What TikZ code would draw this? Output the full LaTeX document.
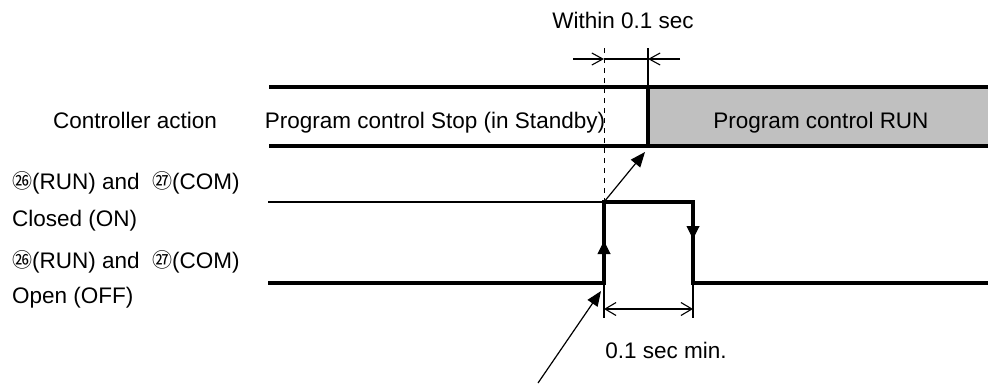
\documentclass[tikz,border=0pt]{standalone}
\usepackage{fontspec}
\setmainfont{Liberation Sans}
\newfontfamily\cjk{Noto Sans CJK JP}
\usepackage{tikz}
\usetikzlibrary{arrows.meta}
\definecolor{runfill}{RGB}{192,192,192}
\newcommand{\circnum}[1]{\raisebox{0.5pt}{\cjk\fontsize{20}{20}\selectfont #1}}

\begin{document}
\begin{tikzpicture}[x=1pt, y=-1pt,
        font=\fontsize{22.5}{27}\selectfont,
        band/.style={line width=4.5pt},
        sig/.style={line width=4.3pt},
        thinline/.style={line width=1.2pt},
        lbl/.style={anchor=base west, inner sep=0pt},
        barb/.style={line width=1.1pt, -{Straight Barb[length=11pt, width=12pt]}},
        dimarr/.style={line width=1.1pt, {Straight Barb[length=11pt, width=13pt]}-{Straight Barb[length=11pt, width=13pt]}},
        pointer/.style={line width=1.2pt, -{Triangle[length=15pt, width=12pt]}},
        edgearr/.style={line width=1pt, -{Triangle[length=13pt, width=13pt]}}
    ]
    \useasboundingbox (0,0) rectangle (988,383);

    % controller action band
    \fill[runfill] (648,87) rectangle (988,146);
    \draw[band] (269,87) -- (988,87);
    \draw[band] (269,146) -- (988,146);
    \draw[band] (648,87) -- (648,146);

    \node[lbl] (ctrl) at (53,128) {Controller action};
    \node[inner sep=0pt, anchor=base] (stop) at (435,128) {Program control Stop (in Standby)};
    \node[inner sep=0pt, anchor=base] (run) at (821,128) {Program control RUN};

    % switch labels
    \node[lbl] (onsw) at (12,189) {\circnum{㉖}(RUN) and~~\circnum{㉗}(COM)};
    \node[lbl] (onst) at (12,226) {Closed (ON)};
    \node[lbl] (offsw) at (12,268) {\circnum{㉖}(RUN) and~~\circnum{㉗}(COM)};
    \node[lbl] (offst) at (12,303) {Open (OFF)};

    % time marks
    \coordinate (swon) at (604,202);
    \coordinate (swonlow) at (604,283);
    \coordinate (swoff) at (693,202);
    \coordinate (swofflow) at (693,283);
    \coordinate (runstart) at (645,152);

    % dashed reference line
    \draw[line width=1pt, dash pattern=on 5pt off 5pt] (604,48) -- (swonlow);

    % within 0.1 sec
    \node[inner sep=0pt] (within) at (623,20) {Within 0.1 sec};
    \draw[line width=1.5pt] (648,48) -- (648,87);
    \coordinate (wl) at (604,59);
    \coordinate (wr) at (648,59);
    \draw[line width=1.8pt] (wl) -- (wr);
    \draw[barb] (573,59) -- (wl);
    \draw[barb] (680,59) -- (wr);

    % signal
    \draw[thinline] (268,202) -- (swon);
    \draw[sig] (268,283) -- (swonlow) -- (swon) -- (swoff) -- (swofflow) -- (988,283);
    \draw[edgearr] (604,260) -- (604,241);
    \draw[edgearr] (693,222) -- (693,239);

    \draw[pointer] (swon) -- (runstart);
    \coordinate (trig) at (538,383);
    \draw[pointer] (trig) -- (601,291);

    % 0.1 sec min.
    \draw[thinline] (swonlow) -- (604,318);
    \draw[thinline] (swofflow) -- (693,318);
    \draw[dimarr] (604,309) -- (693,309);
    \node[inner sep=0pt] (mintime) at (666,350) {0.1 sec min.};

\end{tikzpicture}
\end{document}
